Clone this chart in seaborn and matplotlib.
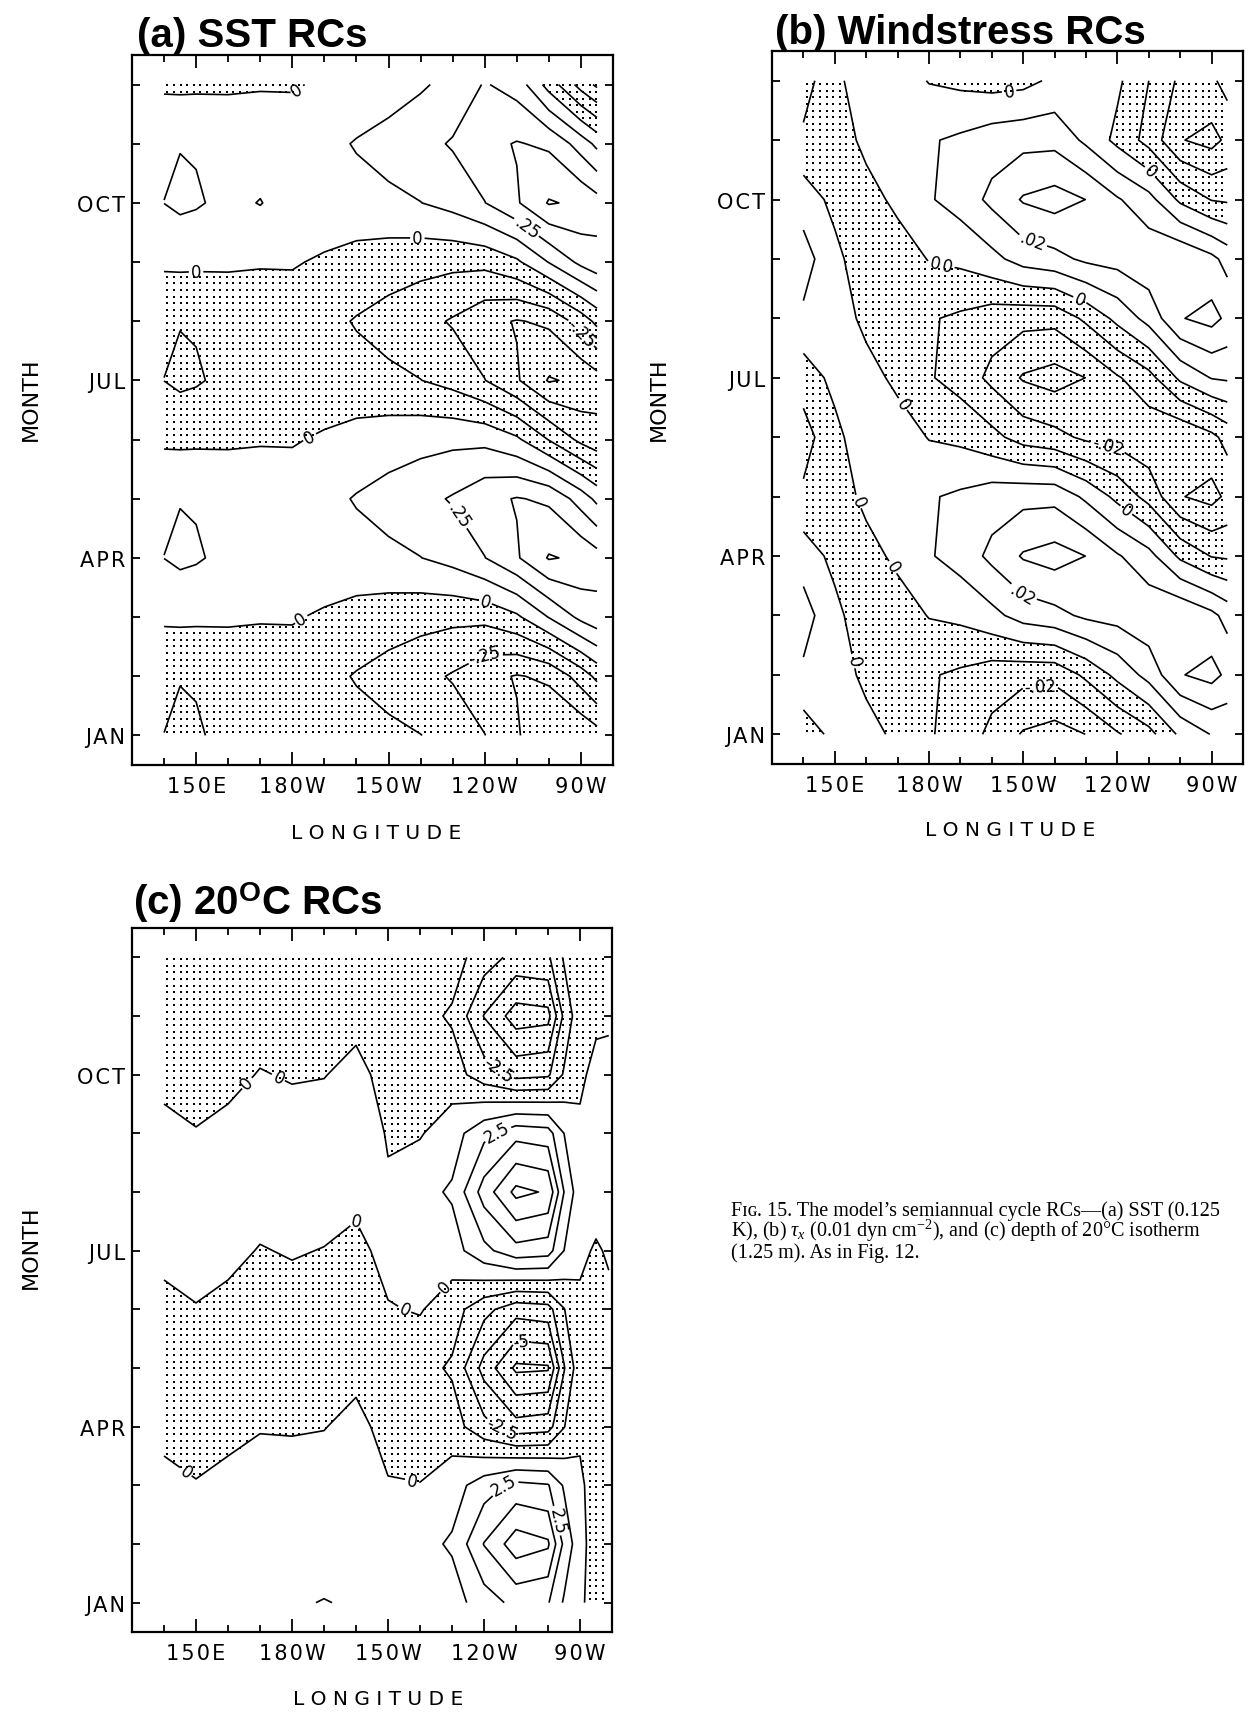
import numpy as np
import matplotlib
matplotlib.use("Agg")
import matplotlib.pyplot as plt
import seaborn as sns

sns.set_theme(style="ticks")
plt.rcParams.update({
    "font.family": ["DejaVu Sans"],
    "text.color": "black",
    "axes.edgecolor": "black",
    "axes.labelcolor": "black",
    "xtick.color": "black",
    "ytick.color": "black",
    "axes.linewidth": 1.6,
    "contour.negative_linestyle": "solid",
    "mathtext.fontset": "custom",
    "mathtext.rm": "Liberation Serif",
    "mathtext.it": "Liberation Serif:italic",
    "mathtext.bf": "Liberation Sans:bold",
})

HAIR = "\u200a"


def spaced(s):
    """Plotter-style lettering with a little extra tracking."""
    return HAIR.join(s)


# ---------------------------------------------------------------- axes data
months = list(range(12))                       # JAN .. DEC
month_labels = ["JAN", "", "", "APR", "", "", "JUL", "", "", "OCT", "", ""]
lon_ticks = [150, 180, 210, 240, 270]
lon_labels = ["150E", "180W", "150W", "120W", "90W"]

# ---------------------------------------------------------------- (a) SST RCs, K
sst_lon = [140, 145, 150, 160, 170, 180, 190, 200, 210, 220, 230, 240, 250, 260, 270, 275]
sst_rc = [
    [-0.126, -0.150, -0.138, -0.093, -0.069, -0.065, -0.078, -0.085, -0.100, -0.123, -0.167, -0.247, -0.361, -0.483, -0.478, -0.428],
    [-0.105, -0.120, -0.115, -0.078, -0.061, -0.065, -0.093, -0.133, -0.169, -0.209, -0.262, -0.338, -0.383, -0.354, -0.195, -0.094],
    [0.020, 0.025, 0.022, 0.016, 0.008, 0.010, -0.016, -0.048, -0.069, -0.085, -0.095, -0.091, -0.022, 0.130, 0.282, 0.334],
    [0.126, 0.150, 0.138, 0.093, 0.069, 0.065, 0.078, 0.085, 0.100, 0.123, 0.167, 0.247, 0.361, 0.510, 0.478, 0.428],
    [0.105, 0.120, 0.115, 0.078, 0.061, 0.065, 0.093, 0.133, 0.169, 0.209, 0.262, 0.338, 0.383, 0.354, 0.195, 0.094],
    [-0.020, -0.025, -0.022, -0.016, -0.008, -0.010, 0.016, 0.048, 0.069, 0.085, 0.095, 0.091, 0.022, -0.130, -0.282, -0.334],
    [-0.126, -0.150, -0.138, -0.093, -0.069, -0.065, -0.078, -0.085, -0.100, -0.123, -0.167, -0.247, -0.361, -0.510, -0.478, -0.428],
    [-0.105, -0.120, -0.115, -0.078, -0.061, -0.065, -0.093, -0.133, -0.169, -0.209, -0.262, -0.338, -0.383, -0.354, -0.195, -0.094],
    [0.020, 0.025, 0.022, 0.016, 0.008, 0.010, -0.016, -0.048, -0.069, -0.085, -0.095, -0.091, -0.022, 0.130, 0.282, 0.334],
    [0.126, 0.150, 0.138, 0.093, 0.130, 0.065, 0.078, 0.085, 0.100, 0.123, 0.167, 0.247, 0.361, 0.510, 0.478, 0.428],
    [0.105, 0.120, 0.115, 0.078, 0.061, 0.065, 0.093, 0.133, 0.169, 0.209, 0.262, 0.338, 0.383, 0.354, 0.195, 0.094],
    [-0.020, -0.025, -0.022, -0.016, -0.008, -0.010, 0.016, 0.048, 0.069, 0.110, 0.160, 0.260, 0.200, -0.050, -0.300, -0.400],
]
sst_label_at = [(182, 10.87), (219, 8.41), (150, 7.81), (185, 5.08), (241, 2.39),
                (183, 1.94), (254, 8.66), (266, 6.58), (232, 3.72), (239, 1.46)]

# ---------------------------------------------------------------- (b) windstress RCs, dyn cm-2
tau_lon = [140, 150, 160, 170, 180, 190, 200, 210, 220, 230, 240, 250, 260, 270, 275]
tau_rc = [
    [-0.0058, 0.0030, 0.0041, -0.0025, -0.0091, -0.0140, -0.0225, -0.0310, -0.0340, -0.0299, -0.0210, -0.0135, 0.0020, 0.0105, 0.0114],
    [0.0083, 0.0060, -0.0028, -0.0078, -0.0091, -0.0117, -0.0154, -0.0169, -0.0170, -0.0080, 0.0027, 0.0135, 0.0294, 0.0333, 0.0279],
    [0.0140, 0.0030, -0.0070, -0.0054, 0.0005, 0.0023, 0.0071, 0.0141, 0.0170, 0.0219, 0.0238, 0.0270, 0.0294, 0.0227, 0.0165],
    [0.0058, -0.0030, -0.0041, 0.0025, 0.0091, 0.0140, 0.0225, 0.0310, 0.0340, 0.0299, 0.0210, 0.0135, -0.0020, -0.0105, -0.0114],
    [-0.0083, -0.0060, 0.0028, 0.0078, 0.0091, 0.0117, 0.0154, 0.0169, 0.0170, 0.0080, -0.0027, -0.0135, -0.0294, -0.0333, -0.0279],
    [-0.0140, -0.0030, 0.0070, 0.0054, -0.0005, -0.0023, -0.0071, -0.0141, -0.0170, -0.0219, -0.0238, -0.0270, -0.0294, -0.0227, -0.0165],
    [-0.0058, 0.0030, 0.0041, -0.0025, -0.0091, -0.0140, -0.0225, -0.0310, -0.0340, -0.0299, -0.0210, -0.0135, 0.0020, 0.0105, 0.0114],
    [0.0083, 0.0060, -0.0028, -0.0078, -0.0091, -0.0117, -0.0154, -0.0169, -0.0170, -0.0080, 0.0027, 0.0135, 0.0294, 0.0333, 0.0279],
    [0.0140, 0.0030, -0.0070, -0.0054, 0.0005, 0.0023, 0.0071, 0.0141, 0.0170, 0.0219, 0.0238, 0.0270, 0.0294, 0.0227, 0.0165],
    [0.0058, -0.0030, -0.0041, 0.0025, 0.0091, 0.0140, 0.0225, 0.0310, 0.0340, 0.0299, 0.0210, 0.0135, -0.0020, -0.0105, -0.0114],
    [-0.0083, -0.0060, 0.0028, 0.0078, 0.0091, 0.0117, 0.0154, 0.0169, 0.0170, 0.0080, -0.0027, -0.0135, -0.0294, -0.0333, -0.0279],
    [-0.0140, -0.0030, 0.0070, 0.0054, -0.0005, -0.0023, -0.0040, -0.0030, 0.0020, 0.0050, 0.0020, -0.0100, -0.0220, -0.0220, -0.0160],
]
tau_label_at = [(206, 10.58), (182, 7.98), (187, 8.16), (213, 8.3), (247, 9.3), (227, 7.19),
                (172, 5.57), (239, 5.33), (165, 4.08), (240, 3.57), (169, 2.83), (210, 2.37),
                (153, 1.2), (215, 1.16)]

# ---------------------------------------------------------------- (c) 20C isotherm depth RCs, m
z20_lon = [140, 150, 160, 170, 180, 190, 200, 210, 220, 230, 240, 250, 260, 265, 270, 275, 279]
z20_rc = [
    [0.40, 0.65, 0.40, 0.10, 0.15, -0.05, 0.15, 0.47, 0.87, 0.70, 1.90, 2.85, 2.60, 1.10, 0.20, -0.50, -0.30],
    [0.80, 0.73, 0.80, 0.65, 0.75, 0.69, 0.40, 0.56, 0.87, 1.40, 3.80, 5.70, 5.20, 2.20, 0.40, -0.60, -0.40],
    [0.40, 0.08, 0.40, 0.73, 0.62, 0.69, 0.80, 0.09, 0.05, 0.70, 1.90, 2.85, 2.60, 1.10, 0.20, -0.50, -0.30],
    [-0.40, -0.65, -0.40, -0.10, -0.12, -0.05, 0.40, -0.47, -0.87, -0.70, -2.10, -3.25, -3.00, -1.30, -0.20, -0.40, -0.30],
    [-0.80, -0.73, -0.80, -0.65, -0.75, -0.69, -0.40, -0.56, -0.87, -1.40, -4.20, -6.50, -6.40, -2.60, -0.40, -0.50, -0.40],
    [-0.40, -0.08, -0.40, -0.73, -0.62, -0.69, -0.80, -0.09, 0.10, -0.70, -2.10, -3.25, -3.00, -1.30, -0.20, -0.30, -0.20],
    [0.40, 0.65, 0.40, -0.08, 0.12, -0.05, -0.40, 0.47, 0.87, 0.70, 2.15, 3.30, 3.05, 1.25, 0.20, -0.10, 0.10],
    [0.80, 0.73, 0.80, 0.65, 0.75, 0.69, 0.40, 0.15, 0.87, 1.40, 4.30, 6.60, 6.10, 2.50, 0.40, 0.40, 0.30],
    [0.40, 0.08, 0.40, 0.73, 0.62, 0.69, 0.80, -0.10, -0.10, 0.70, 2.15, 3.30, 3.05, 1.25, 0.20, 0.50, 0.40],
    [-0.40, -0.65, -0.40, 0.08, -0.12, -0.05, 0.40, -0.47, -0.87, -0.70, -1.90, -2.90, -2.70, -1.10, -0.20, 0.30, 0.20],
    [-0.80, -0.73, -0.80, -0.65, -0.75, -0.69, -0.40, -0.56, -0.87, -1.40, -3.80, -5.60, -5.40, -2.20, -0.40, -0.20, -0.10],
    [-0.40, -0.08, -0.40, -0.73, -0.62, -0.69, -0.80, -0.09, -0.10, -0.70, -1.90, -2.90, -2.70, -1.10, -0.20, -0.40, -0.30],
]
z20_label_at = [(164, 8.95), (177, 9.09), (243, 9.0), (244, 8.02), (201, 6.68), (231.5, 5.19),
                (213, 4.67), (251.6, 4.45), (245.8, 3.01), (218.4, 2.32), (144, 2.02),
                (244.6, 2.09), (259, 1.35)]

sst_levels = [i * 0.125 for i in range(-5, 6)]
tau_levels = [i * 0.01 for i in range(-4, 5)]
z20_levels = [i * 1.25 for i in range(-6, 7)]

X_RANGE = (130, 280)
Y_RANGE = (-0.5, 11.5)


def short_label(v):
    """Contour label in the journal style: 0, .25, -.25, 2.5, 5."""
    if abs(v) < 1e-12:
        return "0"
    s = f"{v:g}"
    if s.startswith("0."):
        s = s[1:]
    elif s.startswith("-0."):
        s = "-" + s[2:]
    return s


def stipple_negative(ax, x, y, z, spacing_px=6.6, dot_size=2.2):
    """Regular grid of dots inside the negative regions of the field."""
    cf = ax.contourf(x, y, z, levels=[z.min() - 1.0, 0.0], colors="none")
    bb = ax.get_window_extent()
    dx = (X_RANGE[1] - X_RANGE[0]) * spacing_px / bb.width
    dy = (Y_RANGE[1] - Y_RANGE[0]) * spacing_px / bb.height
    gx, gy = np.meshgrid(np.arange(x[0] + dx / 2, x[-1], dx),
                         np.arange(y[0] + dy / 2, y[-1], dy))
    pts = np.column_stack([gx.ravel(), gy.ravel()])
    inside = np.zeros(len(pts), dtype=bool)
    for p in cf.get_paths():
        if len(p.vertices):
            inside |= p.contains_points(pts)
    cf.remove()
    ax.scatter(pts[inside, 0], pts[inside, 1], s=dot_size, c="black",
               marker="s", linewidths=0, zorder=1)


def draw_panel(ax, lon, field, levels, label_levels, label_at):
    x = np.asarray(lon, dtype=float)
    y = np.asarray(months, dtype=float)
    z = np.asarray(field, dtype=float)

    ax.set_xlim(*X_RANGE)
    ax.set_ylim(*Y_RANGE)
    stipple_negative(ax, x, y, z)

    is_lab = [any(abs(lv - t) < 1e-9 for t in label_levels) for lv in levels]
    plain = [lv for lv, f in zip(levels, is_lab) if not f]
    labelled = [lv for lv, f in zip(levels, is_lab) if f]

    ax.contour(x, y, z, levels=plain, colors="black", linewidths=1.2,
               negative_linestyles="solid", zorder=2)
    cs = ax.contour(x, y, z, levels=labelled, colors="black", linewidths=1.2,
                    negative_linestyles="solid", zorder=2)
    ax.clabel(cs, fmt=short_label, manual=label_at,
              fontsize=12, inline=True, inline_spacing=2)

    ax.set_xlim(*X_RANGE)
    ax.set_ylim(*Y_RANGE)
    ax.set_xticks(lon_ticks)
    ax.set_xticklabels([spaced(s) for s in lon_labels])
    ax.set_xticks(list(range(140, 271, 10)), minor=True)
    ax.set_yticks(months)
    ax.set_yticklabels([spaced(s) for s in month_labels])
    ax.tick_params(axis="both", which="both", direction="in", top=True, right=True,
                   width=1.3, labelsize=15)
    ax.tick_params(axis="x", which="major", length=9.5, pad=8)
    ax.tick_params(axis="x", which="minor", length=5)
    ax.tick_params(axis="y", which="major", length=6, pad=5)
    for sp in ax.spines.values():
        sp.set_visible(True)
        sp.set_color("black")
        sp.set_linewidth(1.6)
    ax.grid(False)


W, H = 1256, 1715
fig = plt.figure(figsize=(W / 100, H / 100), dpi=100, facecolor="white")


def box(x0, y0, x1, y1):
    return [x0 / W, 1 - y1 / H, (x1 - x0) / W, (y1 - y0) / H]


ax_a = fig.add_axes(box(132, 56, 613, 766))
ax_b = fig.add_axes(box(772, 52, 1243, 765))
ax_c = fig.add_axes(box(132, 929, 612, 1633))

draw_panel(ax_a, sst_lon, sst_rc, sst_levels, [-0.25, 0.0, 0.25], sst_label_at)
draw_panel(ax_b, tau_lon, tau_rc, tau_levels, [-0.02, 0.0, 0.02], tau_label_at)
draw_panel(ax_c, z20_lon, z20_rc, z20_levels, [-5.0, -2.5, 0.0, 2.5, 5.0], z20_label_at)

title_kw = dict(fontsize=29, fontweight="bold", family=["Liberation Sans", "DejaVu Sans"],
                ha="left", va="baseline")
fig.text(137 / W, 1 - 47 / H, "(a) SST RCs", **title_kw)
fig.text(775 / W, 1 - 44 / H, "(b) Windstress RCs", **title_kw)
fig.text(133 / W, 1 - 915 / H, r"(c) 20$^{\mathbf{O}}$C RCs", **title_kw)

axis_kw = dict(fontsize=14.5, ha="center", va="center")
for cx, cy in [(376, 834), (1010, 831), (378, 1700)]:
    fig.text(cx / W, 1 - cy / H, "L O N G I T U D E", **axis_kw)
for cx, cy in [(31, 399), (659, 399), (31, 1247)]:
    fig.text(cx / W, 1 - cy / H, "MONTH", rotation=90, fontsize=16, ha="center", va="center")

cap_kw = dict(fontsize=14.5, family=["Liberation Serif", "DejaVu Serif"], ha="left", va="baseline")
fig.text(731 / W, 1 - 1216 / H, "F\u026a\u0262. 15. The model\u2019s semiannual cycle RCs\u2014(a) SST (0.125", **cap_kw)
fig.text(731 / W, 1 - 1237 / H, r"K), (b) $\tau_x$ (0.01 dyn cm$^{-2}$), and (c) depth of 20°C isotherm", **cap_kw)
fig.text(731 / W, 1 - 1258 / H, "(1.25 m). As in Fig. 12.", **cap_kw)

fig.savefig("out.png", dpi=100, facecolor="white")
